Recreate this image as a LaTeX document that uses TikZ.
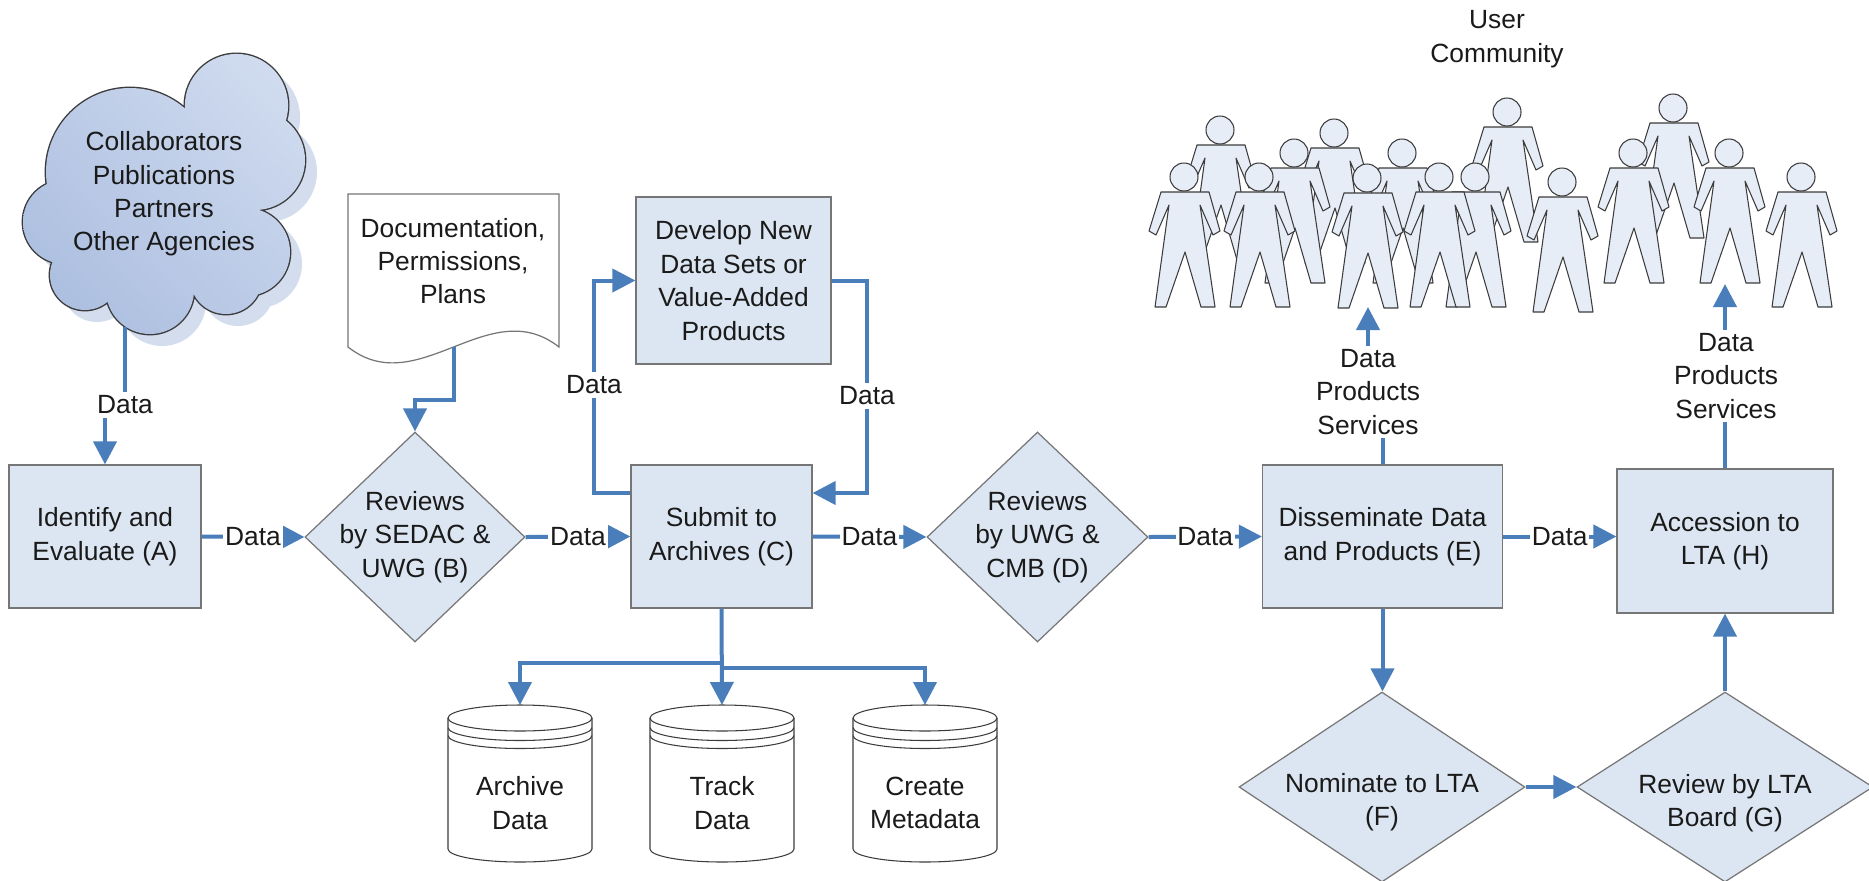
\documentclass[tikz,border=0pt]{standalone}
\usepackage{fontspec}
\setmainfont{Liberation Sans}
\usetikzlibrary{arrows.meta,shapes.geometric,shadings}
\definecolor{cblue}{HTML}{4A7EBB}
\definecolor{boxfill}{HTML}{DCE6F2}
\definecolor{boxline}{HTML}{767676}
\definecolor{figfill}{HTML}{E6EDF7}
\definecolor{figline}{HTML}{3C3C3C}
\definecolor{cloudA}{HTML}{A6BADD}
\definecolor{cloudB}{HTML}{D6E0F1}
\definecolor{cloudC}{HTML}{BCCBE7}
\definecolor{cloudsh}{HTML}{D3DDEE}
\definecolor{txt}{HTML}{1A1A1A}
\begin{document}
\begin{tikzpicture}[x=0.02cm,y=-0.02cm,
  every node/.style={font=\fontsize{15pt}{19pt}\selectfont, align=center, text=txt},
  box/.style={draw=boxline, fill=boxfill, line width=0.7pt, inner sep=0pt},
  dia/.style={diamond, draw=boxline, fill=boxfill, line width=0.7pt, inner sep=0pt},
  conn/.style={draw=cblue, line width=0.08cm, -{Triangle[length=0.46cm,width=0.46cm]}},
  lbl/.style={fill=white, inner xsep=1pt, inner ysep=2pt},
  cloudpath/.style={insert path={
    (130,172) circle[radius=84] (236.5,105.5) circle[radius=51.6] (255,160) circle[radius=50]
    (246,252) circle[radius=44] (226,278) circle[radius=36] (150,290) circle[radius=44]
    (85,275) circle[radius=35] (65,222) circle[radius=42]}},
  cloudfill/.style={insert path={(175,205) circle[radius=70] (115,250) circle[radius=30]}},
  person/.pic={
    \path[draw=figline, fill=figfill, line width=0.6pt, line join=round]
      (-23,15) -- (-35,54) -- (-28,58) -- (-15,28) -- (-29,130) -- (-18,130) -- (1,75)
      -- (17,130) -- (31,130) -- (16,28) -- (29,58) -- (36,54) -- (25,15) -- cycle;
    \path[draw=figline, fill=figfill, line width=0.6pt] (0,0) circle[radius=14];
  },
  cyl/.pic={
    \path[draw=figline, fill=white, line width=0.6pt]
      (-72,13) -- (-72,144) arc[start angle=180, end angle=0, x radius=72, y radius=13] -- (72,13);
    \path[draw=figline, line width=0.6pt] (0,13) ellipse[x radius=72, y radius=13];
    \path[draw=figline, line width=0.6pt] (-72,22.5) arc[start angle=180, end angle=0, x radius=72, y radius=13];
    \path[draw=figline, line width=0.6pt] (-72,30.5) arc[start angle=180, end angle=0, x radius=72, y radius=13];
  }
]
\useasboundingbox (0,0) rectangle (1869,880);
\fill[white] (0,0) rectangle (1869,880);
\clip (0,0) rectangle (1869,880);

% ---------- cloud ----------
\begin{scope}[shift={(12,12)}]
  \fill[cloudsh] [cloudpath] [cloudfill];
\end{scope}
\draw[figline, line width=1.6pt] [cloudpath];
\begin{scope}
  \clip [cloudpath] [cloudfill];
  \shade[upper right=cloudB, lower left=cloudA, upper left=cloudC, lower right=cloudC] (15,45) rectangle (310,345);
\end{scope}
\node (cloud) at (164,194) {Collaborators\\Publications\\Partners\\Other Agencies};
\coordinate (cloudS) at (125,327);

% ---------- people ----------
\foreach \hx/\hy in {1673/108, 1507/112, 1220/130, 1334/133, 1294/153, 1402/153, 1633/153, 1729/153,
                     1184/177, 1259/177, 1367/178, 1475/177, 1439/177, 1562/182, 1801/177}
  \pic at (\hx,\hy) {person};
\node (users) at (1497,39) {User\\Community};

% ---------- document ----------
\path[draw=boxline, fill=white, line width=0.7pt]
  (348,194) -- (559,194) -- (559,347) .. controls (489,292) and (418,402) .. (348,347) -- cycle;
\node (doc) at (453,261) {Documentation,\\Permissions,\\Plans};
\coordinate (docS) at (454,347);

% ---------- boxes ----------
\node[box, minimum width=3.84cm, minimum height=2.86cm] (A) at (105,536.5) {Identify and\\Evaluate (A)};
\node[box, minimum width=3.62cm, minimum height=2.86cm] (C) at (721.5,536.5) {Submit to\\Archives (C)};
\node[box, minimum width=3.90cm, minimum height=3.34cm] (Dev) at (733.5,280.5) {Develop New\\Data Sets or\\Value-Added\\Products};
\node[box, minimum width=4.80cm, minimum height=2.86cm] (E) at (1382.5,536.5) {Disseminate Data\\and Products (E)};
\node[box, minimum width=4.32cm, minimum height=2.88cm] (H) at (1725,541) {Accession to\\LTA (H)};

% ---------- diamonds ----------
\node[dia, minimum width=4.4cm, minimum height=4.2cm] (B) at (415,537) {};
\node (Bt) at (B.center) {Reviews\\by SEDAC \&\\UWG (B)};
\node[dia, minimum width=4.42cm, minimum height=4.2cm] (D) at (1037.5,537) {};
\node (Dt) at (D.center) {Reviews\\by UWG \&\\CMB (D)};
\node[dia, minimum width=5.72cm, minimum height=3.8cm] (F) at (1382,787) {};
\node (Ft) at (1382,802) {Nominate to LTA\\(F)};
\node[dia, minimum width=5.92cm, minimum height=3.8cm] (G) at (1725,787) {};
\node (Gt) at (1725,803) {Review by LTA\\Board (G)};

% ---------- cylinders ----------
\pic at (520,705) {cyl};
\pic at (722,705) {cyl};
\pic at (925,705) {cyl};
\coordinate (arcTop) at (520,705);
\coordinate (trkTop) at (722,705);
\coordinate (creTop) at (925,705);
\node (arcT) at (520,803) {Archive\\Data};
\node (trkT) at (722,803) {Track\\Data};
\node (creT) at (925,803) {Create\\Metadata};

% ---------- connectors ----------
\draw[conn] (cloudS) -- (125,405) -- (105,405) -- (A.north);
\node[lbl] (l1) at (125,405) {Data};

\draw[conn] (A.east) -- node[lbl] (l2) {Data} (B.west);
\draw[conn] (docS) -- (454,400) -- (415,400) -- (B.north);
\draw[conn] (B.east) -- node[lbl] (l3) {Data} (C.west);

\coordinate (loopL) at (594,493);
\coordinate (loopR) at (867,493);
\draw[conn] (C.west |- loopL) -- (loopL) |- (Dev.west);
\node[lbl] (l4) at (594,385) {Data};
\draw[conn] (Dev.east) -| (loopR) -- (C.east |- loopR);
\node[lbl] (l5) at (867,396) {Data};

\draw[conn] (C.east) -- node[lbl] (l6) {Data} (D.west);
\draw[conn] (C.south) -- (trkTop);
\coordinate (j1) at (722,663);
\coordinate (j2) at (724,668);
\draw[conn] (j1) -| (arcTop);
\draw[conn] (j2) -| (creTop);

\draw[conn] (D.east) -- node[lbl] (l7) {Data} (E.west);
\draw[conn] (E.east) -- node[lbl] (l8) {Data} (E.east -| H.west);

\coordinate (eTop) at (1368,307);
\draw[conn] (E.north) -- (1382.5,392) -- (1368,392) -- (eTop);
\node[lbl] (l9) at (1368,392) {Data\\Products\\Services};

\coordinate (hTop) at (1725,284);
\draw[conn] (H.north) -- (hTop);
\node[lbl] (l10) at (1726,376) {Data\\Products\\Services};

\draw[conn] (E.south) -- (E.south |- F.north);
\draw[conn] (F.east) -- (G.west);
\draw[conn] (G.north) -- (H.south);
\end{tikzpicture}
\end{document}
